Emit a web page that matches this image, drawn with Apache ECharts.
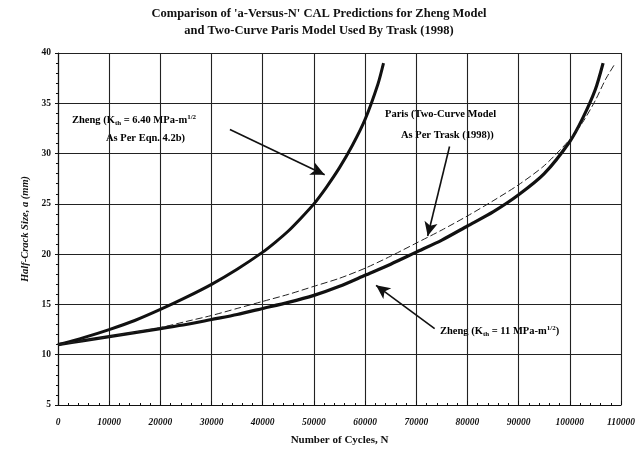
<!DOCTYPE html>
<html><head><meta charset="utf-8">
<script src="https://cdn.jsdelivr.net/npm/echarts@6/dist/echarts.min.js"></script>
<style>html,body{margin:0;padding:0;background:#fff}#c{width:638px;height:451px}</style>
</head><body><div id="c"></div>
<script>
// Data
const xTicks = [0,10000,20000,30000,40000,50000,60000,70000,80000,90000,100000,110000];
const yTicks = [5,10,15,20,25,30,35,40];

const zheng640N = [0,5000,10000,15000,20000,25000,30000,35000,40000,42500,45000,47500,50000,52500,55000,57500,60000,62500,63600];
const zheng640A = [11.0,11.7,12.5,13.4,14.5,15.7,17.0,18.5,20.2,21.2,22.3,23.6,25.0,26.7,28.6,30.8,33.4,36.9,39.0];

const zheng11N = [0,5000,10000,15000,20000,25000,30000,35000,40000,45000,50000,55000,60000,65000,70000,75000,80000,85000,90000,95000,100000,102500,105000,106500];
const zheng11A = [11.0,11.4,11.8,12.2,12.6,13.0,13.5,14.0,14.6,15.2,15.9,16.8,17.9,19.0,20.2,21.4,22.8,24.2,25.9,28.0,31.2,33.5,36.4,39.0];

const parisN = [0,5000,10000,15000,20000,25000,30000,35000,40000,45000,50000,55000,60000,65000,70000,75000,80000,85000,90000,95000,100000,102500,105000,107000,108900];
const parisA = [11.0,11.4,11.8,12.25,12.7,13.3,13.9,14.6,15.3,16.0,16.8,17.6,18.6,19.8,21.1,22.4,23.8,25.3,26.9,28.8,31.4,33.1,35.3,37.4,39.0];

const arrows = [
  [[33590,32.4],[52100,27.9]],
  [[76500,30.7],[72230,21.8]],
  [[73590,12.6],[62140,16.9]]
];

const pair = (xs, ys) => xs.map((x,i)=>[x, ys[i]]);
const FONT = '"Liberation Serif","DejaVu Serif",serif';

const chart = echarts.init(document.getElementById('c'), null, {renderer:'canvas'});
const rich = {
  n:{fontFamily:FONT,fontWeight:'bold',fontSize:10.5,color:'#111'},
  sub:{fontFamily:FONT,fontWeight:'bold',fontSize:7,color:'#111',verticalAlign:'bottom',padding:[6,0,0,0]},
  sup:{fontFamily:FONT,fontWeight:'bold',fontSize:7,color:'#111',verticalAlign:'top',padding:[0,0,6,0]}
};

chart.setOption({
  animation:false,
  backgroundColor:'#fff',
  title:{
    text:"Comparison of 'a-Versus-N' CAL Predictions for Zheng Model\nand Two-Curve Paris Model Used By Trask (1998)",
    left:'center', top:5, padding:0,
    textStyle:{fontFamily:FONT,fontWeight:'bold',fontSize:12.5,color:'#111',lineHeight:17}
  },
  grid:{left:58,right:14,top:53,bottom:44,show:false},
  xAxis:{
    type:'value', min:0, max:110000, interval:10000,
    name:'Number of Cycles, N', nameLocation:'middle', nameGap:30,
    nameTextStyle:{fontFamily:FONT,fontWeight:'bold',fontSize:11,color:'#111'},
    axisLine:{show:true,lineStyle:{color:'#111',width:1.2}},
    axisTick:{show:true,inside:true,length:4,lineStyle:{color:'#111'}},
    minorTick:{show:true,splitNumber:5,length:2,lineStyle:{color:'#111'}},
    axisLabel:{fontFamily:FONT,fontStyle:'italic',fontWeight:'bold',fontSize:9.5,color:'#111',margin:13,
      formatter:v=>String(v)},
    splitLine:{show:true,lineStyle:{color:'#222',width:1.1}}
  },
  yAxis:{
    type:'value', min:5, max:40, interval:5,
    name:'Half-Crack Size, a (mm)', nameLocation:'middle', nameGap:20,
    nameTextStyle:{fontFamily:FONT,fontStyle:'italic',fontWeight:'bold',fontSize:10.5,color:'#111'},
    axisLine:{show:true,lineStyle:{color:'#111',width:1.2}},
    axisTick:{show:true,inside:false,length:3,lineStyle:{color:'#111'}},
    minorTick:{show:true,splitNumber:5,length:2,lineStyle:{color:'#111'}},
    axisLabel:{fontFamily:FONT,fontWeight:'bold',fontSize:9.5,color:'#111',margin:7},
    splitLine:{show:true,lineStyle:{color:'#222',width:1.1}}
  },
  series:[
    {type:'line',name:'Zheng 6.40',data:pair(zheng640N,zheng640A),smooth:0.25,showSymbol:false,
      lineStyle:{color:'#111',width:3}},
    {type:'line',name:'Zheng 11',data:pair(zheng11N,zheng11A),smooth:0.25,showSymbol:false,
      lineStyle:{color:'#111',width:3.2}},
    {type:'line',name:'Paris',data:pair(parisN,parisA),smooth:0.25,showSymbol:false,
      lineStyle:{color:'#222',width:1,type:[7,3]},
      markLine:{silent:true,symbol:['none','arrow'],symbolSize:[10,14],
        lineStyle:{color:'#111',width:1.6,type:'solid'},label:{show:false},
        data:arrows.map(a=>[{coord:a[0]},{coord:a[1]}])}
    }
  ],
  graphic:[
    {type:'text',left:72,top:114,style:{rich,text:'{n|Zheng (K}{sub|th}{n| = 6.40 MPa-m}{sup|1/2}'}},
    {type:'text',left:106,top:133,style:{rich,text:'{n|As Per Eqn. 4.2b)}'}},
    {type:'text',left:385,top:109,style:{rich,text:'{n|Paris (Two-Curve Model}'}},
    {type:'text',left:401,top:130,style:{rich,text:'{n|As Per Trask (1998))}'}},
    {type:'text',left:440,top:325,style:{rich,text:'{n|Zheng (K}{sub|th}{n| = 11 MPa-m}{sup|1/2}{n|)}'}}
  ]
});
</script></body></html>
